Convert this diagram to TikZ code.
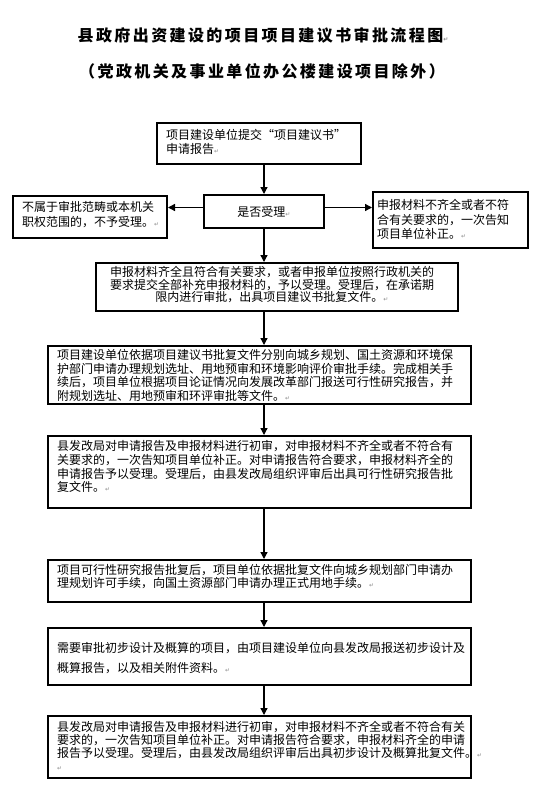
\documentclass[tikz,border=0pt]{standalone}
\usepackage{fontspec}
\newfontfamily\cjk{Noto Sans CJK SC}
\newfontfamily\symf{DejaVu Sans}
\usetikzlibrary{arrows.meta}
\newcommand\pmk{{\symf\fontsize{6}{6}\selectfont\color{black!45}↵}}
\newcommand\fr{\rule{0pt}{12pt}}
\tikzset{
  box/.style={draw, line width=2pt, inner sep=0pt, anchor=north west},
  txt/.style={inner sep=0pt, anchor=north west, align=left},
  arr/.style={line width=1.3pt, -{Triangle[length=7pt,width=7pt]}},
  titlef/.style={font={\cjk\bfseries\fontsize{16}{16}\selectfont\addfontfeature{LetterSpace=15}}},
}
\begin{document}
\begin{tikzpicture}[x=1pt,y=-1pt]
\useasboundingbox[fill=white] (0,0) rectangle (539,793);

% titles
\node[titlef, inner sep=0pt] (t1) at (263,35) {县政府出资建设的项目项目建议书审批流程图\pmk};
\node[titlef, inner sep=0pt] (t2) at (262,71) {（党政机关及事业单位办公楼建设项目除外）};

% boxes
\node[box, minimum width=204pt, minimum height=41pt] (b1) at (156,122) {};
\node[box, minimum width=120pt, minimum height=33pt, font={\cjk\fontsize{12}{14}\selectfont}] (dec) at (203,194) {是否受理\pmk};
\node[box, minimum width=154pt, minimum height=42pt] (lb) at (12,195) {};
\node[box, minimum width=155pt, minimum height=56pt] (rb) at (372,191) {};
\node[box, minimum width=362pt, minimum height=48pt] (b3) at (95,262) {};
\node[box, minimum width=423pt, minimum height=58pt] (b4) at (47,345) {};
\node[box, minimum width=423pt, minimum height=72pt] (b5) at (47,435) {};
\node[box, minimum width=423pt, minimum height=42pt] (b6) at (47,559) {};
\node[box, minimum width=423pt, minimum height=57pt] (b7) at (47,627) {};
\node[box, minimum width=423pt, minimum height=62pt] (b8) at (47,715) {};

% texts
\node[txt, font={\cjk\fontsize{12}{14}\selectfont}] (x1) at (166,127.5)
 {\fr 项目建设单位提交“项目建议书”\\申请报告\pmk};
\node[txt, font={\cjk\fontsize{12}{14.5}\selectfont}] (xl) at (22,199.5)
 {\fr 不属于审批范畴或本机关\\职权范围的，不予受理。\pmk};
\node[txt, font={\cjk\fontsize{12}{14.5}\selectfont}] (xr) at (377,197.5)
 {\fr 申报材料不齐全或者不符\\合有关要求的，一次告知\\项目单位补正。\pmk};
\node[txt, anchor=north, align=center, font={\cjk\fontsize{12}{12.5}\selectfont}] (x3) at (272,264.5)
 {\fr 申报材料齐全且符合有关要求，或者申报单位按照行政机关的\\要求提交全部补充申报材料的，予以受理。受理后，在承诺期\\限内进行审批，出具项目建议书批复文件。\pmk};
\node[txt, font={\cjk\fontsize{12}{13.6}\selectfont}] (x4) at (57,347.5)
 {\fr 项目建设单位依据项目建议书批复文件分别向城乡规划、国土资源和环境保\\护部门申请办理规划选址、用地预审和环境影响评价审批手续。完成相关手\\续后，项目单位根据项目论证情况向发展改革部门报送可行性研究报告，并\\附规划选址、用地预审和环评审批等文件。\pmk};
\node[txt, font={\cjk\fontsize{12}{13.7}\selectfont}] (x5) at (57,438.5)
 {\fr 县发改局对申请报告及申报材料进行初审，对申报材料不齐全或者不符合有\\关要求的，一次告知项目单位补正。对申请报告符合要求，申报材料齐全的\\申请报告予以受理。受理后，由县发改局组织评审后出具可行性研究报告批\\复文件。\pmk};
\node[txt, font={\cjk\fontsize{12}{12.5}\selectfont}] (x6) at (57,562.5)
 {\fr 项目可行性研究报告批复后，项目单位依据批复文件向城乡规划部门申请办\\理规划许可手续，向国土资源部门申请办理正式用地手续。\pmk};
\node[txt, font={\cjk\fontsize{12}{20}\selectfont}] (x7) at (57,640.5)
 {\fr 需要审批初步设计及概算的项目，由项目建设单位向县发改局报送初步设计及\\概算报告，以及相关附件资料。\pmk};
\node[txt, font={\cjk\fontsize{12}{13}\selectfont}] (x8) at (57,719.5)
 {\fr 县发改局对申请报告及申报材料进行初审，对申报材料不齐全或者不符合有关\\要求的，一次告知项目单位补正。对申请报告符合要求，申报材料齐全的申请\\报告予以受理。受理后，由县发改局组织评审后出具初步设计及概算批复文件。\pmk\\\pmk};

% connectors
\draw[arr] (b1.south -| dec.north) -- (dec.north);
\draw[arr] ([yshift=4pt]dec.west) -- ([yshift=4pt]dec.west -| lb.east);
\draw[arr] ([yshift=4pt]dec.east) -- ([yshift=4pt]dec.east -| rb.west);
\draw[arr] (dec.south) -- (dec.south |- b3.north);
\draw[arr] (b3.south -| dec.south) -- (b4.north -| dec.south);
\draw[arr] (b4.south -| dec.south) -- (b5.north -| dec.south);
\draw[arr] (b5.south -| dec.south) -- (b6.north -| dec.south);
\draw[arr] (b6.south -| dec.south) -- (b7.north -| dec.south);
\draw[arr] (b7.south -| dec.south) -- (b8.north -| dec.south);
\end{tikzpicture}
\end{document}
